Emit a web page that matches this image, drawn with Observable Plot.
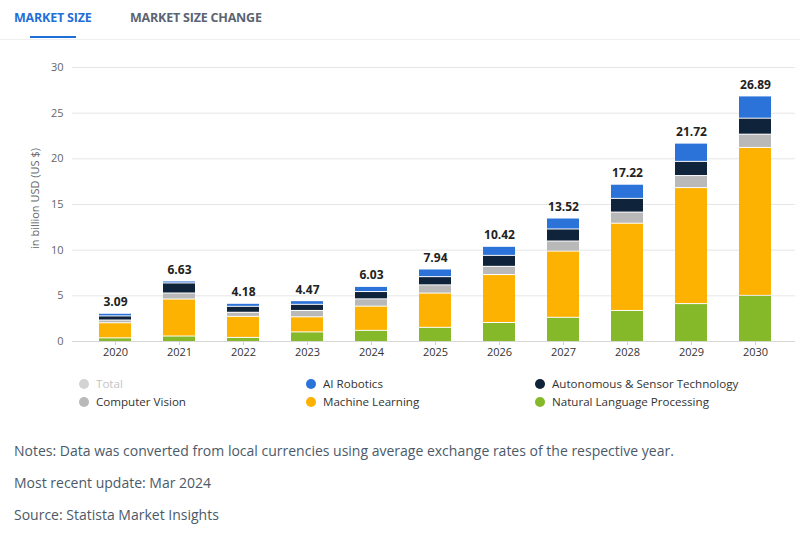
<!DOCTYPE html>
<html>
<head>
<meta charset="utf-8">
<script src="https://cdn.jsdelivr.net/npm/d3@7"></script>
<script src="https://cdn.jsdelivr.net/npm/@observablehq/plot@0.6"></script>
<style>
  html, body { margin: 0; padding: 0; background: #fff; }
  body { width: 800px; height: 539px; position: relative; overflow: hidden; font-family: "Open Sans", sans-serif; }
  .tab { position: absolute; top: 9px; font-size: 12.5px; font-weight: 700; letter-spacing: -0.2px; }
  #tab1 { left: 14px; color: #1f6fd6; }
  #tab2 { left: 130px; color: #5b6472; }
  #underline { position: absolute; left: 30px; top: 36px; width: 46px; height: 2px; background: #1f6fd6; }
  #sep { position: absolute; left: 0; top: 39px; width: 800px; height: 1px; background: #f0f0f0; }
  #chart { position: absolute; left: 0; top: 45px; }
  .leg { position: absolute; font-size: 11.6px; color: #333; line-height: 14px; white-space: nowrap; }
  .leg .dot { display: inline-block; width: 10px; height: 10px; border-radius: 50%; vertical-align: -1px; margin-right: 7px; }
  .note { position: absolute; left: 14px; font-size: 14px; color: #4b5a69; white-space: nowrap; }
</style>
</head>
<body>
<div class="tab" id="tab1">MARKET SIZE</div>
<div class="tab" id="tab2">MARKET SIZE CHANGE</div>
<div id="underline"></div>
<div id="sep"></div>
<div id="chart"></div>
<div id="legend"></div>
<div class="note" style="top:441px">Notes: Data was converted from local currencies using average exchange rates of the respective year.</div>
<div class="note" style="top:473px">Most recent update: Mar 2024</div>
<div class="note" style="top:505px">Source: Statista Market Insights</div>
<script>
const years = ["2020","2021","2022","2023","2024","2025","2026","2027","2028","2029","2030"];
const total = [3.09, 6.63, 4.18, 4.47, 6.03, 7.94, 10.42, 13.52, 17.22, 21.72, 26.89];
const naturalLanguageProcessing = [0.4, 0.6, 0.45, 1.05, 1.22, 1.55, 2.08, 2.65, 3.4, 4.15, 5.05];
const machineLearning = [1.65, 4.05, 2.3, 1.65, 2.65, 3.75, 5.25, 7.25, 9.55, 12.7, 16.2];
const computerVision = [0.3, 0.66, 0.45, 0.7, 0.8, 0.9, 0.9, 1.1, 1.22, 1.32, 1.45];
const autonomousSensor = [0.45, 1.1, 0.65, 0.67, 0.8, 0.9, 1.2, 1.32, 1.5, 1.55, 1.75];
const aiRobotics = [0.29, 0.22, 0.33, 0.4, 0.56, 0.84, 0.99, 1.2, 1.55, 2.0, 2.44];
const yTicks = [0, 5, 10, 15, 20, 25, 30];

const seriesNames = ["Natural Language Processing", "Machine Learning", "Computer Vision", "Autonomous & Sensor Technology", "AI Robotics"];
const seriesValues = [naturalLanguageProcessing, machineLearning, computerVision, autonomousSensor, aiRobotics];
const seriesColors = ["#86b92a", "#fdb100", "#b9b9b9", "#0f233a", "#2b72d9"];

const rows = [];
seriesNames.forEach((s, i) => years.forEach((y, j) => rows.push({year: y, series: s, value: seriesValues[i][j]})));
const totals = years.map((y, j) => ({year: y, total: total[j]}));

const chart = Plot.plot({
  width: 800,
  height: 321,
  marginTop: 22,
  marginBottom: 25,
  marginLeft: 72,
  marginRight: 5,
  style: {fontFamily: "'Open Sans', sans-serif", background: "transparent"},
  x: {domain: years, paddingInner: 0.5, paddingOuter: 0.25, insetLeft: 11, insetRight: 8, label: null},
  y: {domain: [0, 30], label: null},
  color: {domain: seriesNames, range: seriesColors},
  marks: [
    Plot.gridY(yTicks, {stroke: "#e6e6e6", strokeOpacity: 1}),
    Plot.axisY(yTicks, {tickSize: 0, tickPadding: 9, fontSize: 11, fill: "#666", label: null}),
    Plot.axisX({tickSize: 4, tickPadding: 3, fontSize: 11, stroke: "#cfcfcf", fill: "#333", label: null}),
    Plot.barY(rows, Plot.stackY({order: seriesNames}, {x: "year", y: "value", fill: "series", insetTop: 1})),
    Plot.ruleY([0], {stroke: "#d6d6d6"}),
    Plot.text(totals, {x: "year", y: "total", text: d => d.total.toFixed(2), dy: -11, fontSize: 12, fontWeight: "bold", fill: "#222"}),
    Plot.text(["in billion USD (US $)"], {frameAnchor: "left", textAnchor: "middle", rotate: -90, dx: -37, dy: -6, text: d => d, fontSize: 11, fill: "#666"})
  ]
});
document.getElementById("chart").appendChild(chart);

const legendItems = [
  {name: "Total", color: "#d3d3d3", text: "#c4c4c4", x: 79, y: 377},
  {name: "AI Robotics", color: seriesColors[4], text: "#333", x: 306, y: 377},
  {name: "Autonomous & Sensor Technology", color: seriesColors[3], text: "#333", x: 535, y: 377},
  {name: "Computer Vision", color: seriesColors[2], text: "#333", x: 79, y: 395},
  {name: "Machine Learning", color: seriesColors[1], text: "#333", x: 306, y: 395},
  {name: "Natural Language Processing", color: seriesColors[0], text: "#333", x: 535, y: 395}
];
const leg = document.getElementById("legend");
legendItems.forEach(it => {
  const d = document.createElement("div");
  d.className = "leg";
  d.style.left = it.x + "px";
  d.style.top = it.y + "px";
  d.style.color = it.text;
  d.innerHTML = `<span class="dot" style="background:${it.color}"></span>${it.name}`;
  leg.appendChild(d);
});
</script>
</body>
</html>
